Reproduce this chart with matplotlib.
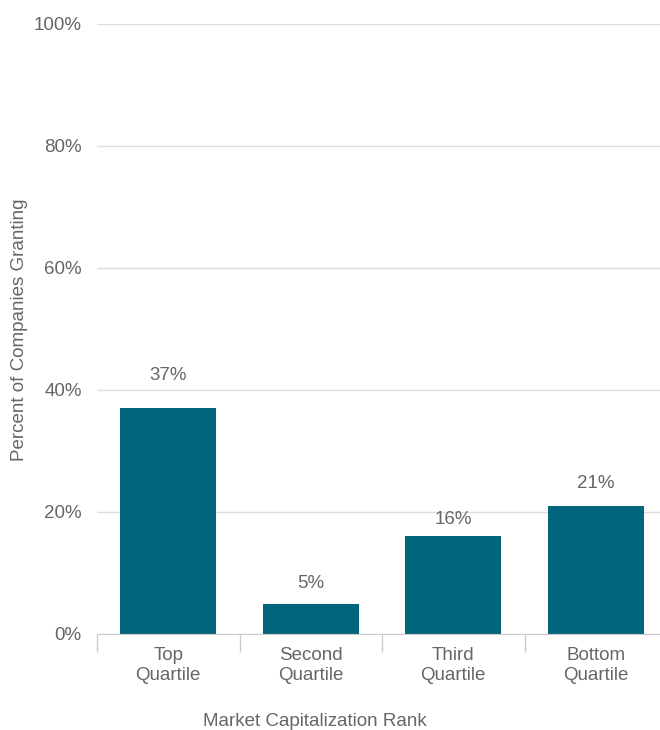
import matplotlib.pyplot as plt
from matplotlib.ticker import FixedLocator, PercentFormatter

plt.rcParams['font.family'] = ['Liberation Sans', 'DejaVu Sans']

# data
categories = ["Top\nQuartile", "Second\nQuartile", "Third\nQuartile", "Bottom\nQuartile"]
values = [37, 5, 16, 21]
label_lift = [5.3, 3.2, 2.7, 3.6]

bar_color = "#02667c"
text_color = "#666666"
grid_color = "#dddddd"
fs = 13.5

W, H = 660, 730
fig = plt.figure(figsize=(W / 100, H / 100), dpi=100)
# axes runs a little past the right edge, as in the reference
left, right, bottom, top = 97, 667, 634, 24
ax = fig.add_axes([left / W, 1 - bottom / H, (right - left) / W, (bottom - top) / H])

x = range(len(categories))
ax.bar(x, values, width=0.674, color=bar_color, zorder=3)

for xi, v, lift in zip(x, values, label_lift):
    ax.text(xi, v + lift, f"{v}%", ha="center", va="center", fontsize=fs, color=text_color)

ax.set_xlim(-0.5, len(categories) - 0.5)
ax.set_ylim(0, 100)
ax.set_yticks(range(0, 101, 20))
ax.yaxis.set_major_formatter(PercentFormatter(decimals=0))
ax.grid(axis="y", color=grid_color, linewidth=1, zorder=0)

ax.set_xticks(list(x))
ax.set_xticklabels(categories, fontsize=fs, color=text_color, linespacing=1.3)
ax.xaxis.set_minor_locator(FixedLocator([i - 0.5 for i in range(len(categories) + 1)]))
ax.tick_params(axis="x", which="major", length=0, pad=9)
ax.tick_params(axis="x", which="minor", length=13, color="#cccccc", width=1)
ax.tick_params(axis="y", length=0, pad=11, labelsize=fs, labelcolor=text_color)

for s in ["left", "right", "top"]:
    ax.spines[s].set_visible(False)
ax.spines["bottom"].set_color("#cccccc")
ax.spines["bottom"].set_zorder(4)

fig.text(20 / W, 1 - 330 / H, "Percent of Companies Granting", rotation=90,
         ha="center", va="center", fontsize=fs, color=text_color)
fig.text(315 / W, 1 - 721 / H, "Market Capitalization Rank", ha="center", va="center",
         fontsize=fs, color=text_color)

fig.savefig("out.png", dpi=100)
